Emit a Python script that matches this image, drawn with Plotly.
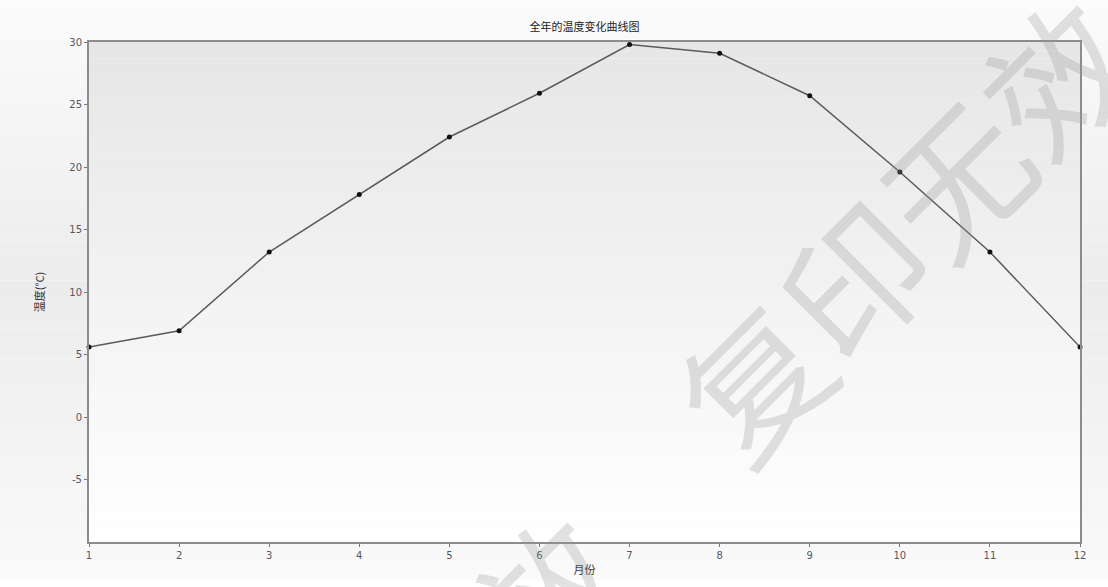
import plotly.graph_objects as go

# Monthly temperature data
months = [1, 2, 3, 4, 5, 6, 7, 8, 9, 10, 11, 12]
temps = [5.6, 6.9, 13.2, 17.8, 22.4, 25.9, 29.8, 29.1, 25.7, 19.6, 13.2, 5.6]
y_ticks = [-5, 0, 5, 10, 15, 20, 25, 30]

title_text = "全年的温度变化曲线图"
x_title = "月份"
y_title = "温度(°C)"
watermark = "复印无效"

W, H = 1108, 587
ML, MR, MT, MB = 89, 28, 42, 38
PW, PH = W - ML - MR, H - MT - MB


def lerp_gray(c0, c1, t):
    v = round(c0 + (c1 - c0) * t)
    return f"rgb({v},{v},{v})"


def px_to_paper(px, py):
    return (px - ML) / PW, 1 - (py - MT) / PH


shapes = []
# page background: light at top and bottom, slightly darker in the middle
n = 60
y_lo, y_hi = -MB / PH, 1 + MT / PH
for i in range(n):
    t = (i + 0.5) / n
    g = lerp_gray(251, 236, t / 0.5) if t < 0.5 else lerp_gray(236, 250, (t - 0.5) / 0.5)
    y0 = y_hi - (y_hi - y_lo) * i / n
    y1 = y_hi - (y_hi - y_lo) * (i + 1) / n
    shapes.append(dict(type="rect", xref="paper", yref="paper",
                       x0=-ML / PW, x1=1 + MR / PW, y0=y1, y1=y0,
                       fillcolor=g, line=dict(width=0), layer="below"))
# plot area: grey at the top fading to white at the bottom
n = 60
for i in range(n):
    t = (i + 0.5) / n
    g = lerp_gray(230, 255, t)
    shapes.append(dict(type="rect", xref="paper", yref="paper",
                       x0=0, x1=1, y0=1 - (i + 1) / n, y1=1 - i / n,
                       fillcolor=g, line=dict(width=0), layer="below"))

fig = go.Figure()
fig.add_trace(go.Scatter(
    x=months, y=temps, mode="lines+markers",
    line=dict(color="#5a5a5a", width=1.5),
    marker=dict(color="#111111", size=5),
    cliponaxis=False, showlegend=False,
))

axis_common = dict(
    showgrid=False, zeroline=False,
    showline=True, linecolor="#8c8c8c", linewidth=2, mirror=True,
    ticks="outside", ticklen=3, tickcolor="#777777", tickwidth=1,
    tickfont=dict(family="DejaVu Sans", size=10, color="#555566"),
)

fig.update_xaxes(range=[1, 12], tickvals=months, ticktext=[str(m) for m in months],
                 title=dict(text=x_title, standoff=6,
                            font=dict(family="Noto Sans CJK SC", size=11, color="#333333")),
                 **axis_common)
fig.update_yaxes(range=[-10, 30], tickvals=y_ticks, ticktext=[str(v) for v in y_ticks],
                 title=dict(text=y_title, standoff=22,
                            font=dict(family="Noto Sans CJK SC", size=11, color="#333333")),
                 **axis_common)

wm_font = dict(family="Noto Sans CJK SC", size=143, color="rgba(150,150,150,0.28)")
wm1 = px_to_paper(902, 228)
wm2 = px_to_paper(392, 752)

fig.update_layout(
    width=W, height=H,
    margin=dict(l=ML, r=MR, t=MT, b=MB),
    paper_bgcolor="#ffffff",
    plot_bgcolor="rgba(0,0,0,0)",
    title=dict(text=title_text, x=0.5, xref="paper", xanchor="center",
               y=1 - 27 / H, yanchor="middle",
               font=dict(family="Noto Sans CJK SC", size=11, color="#222222")),
    shapes=shapes,
    annotations=[
        dict(text=watermark, xref="paper", yref="paper", x=wm1[0], y=wm1[1],
             xanchor="center", yanchor="middle",
             showarrow=False, textangle=-45, font=wm_font),
        dict(text=watermark, xref="paper", yref="paper", x=wm2[0], y=wm2[1],
             xanchor="center", yanchor="middle",
             showarrow=False, textangle=-45, font=wm_font),
    ],
)

fig.write_html("out.html")
